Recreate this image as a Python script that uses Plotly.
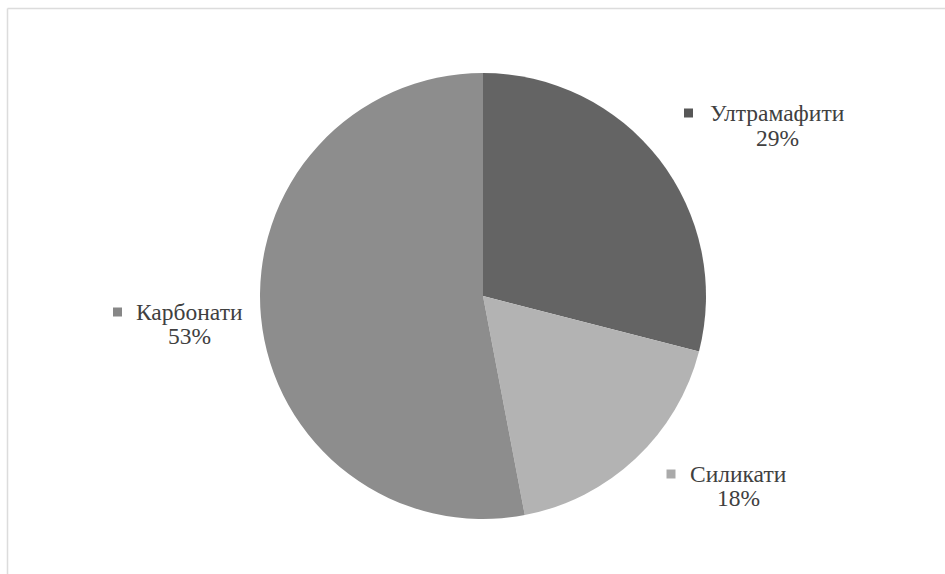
import plotly.graph_objects as go

# Rock types and their shares
categories = ["Ултрамафити", "Силикати", "Карбонати"]
values = [29, 18, 53]
slice_colors = ["#646464", "#b3b3b3", "#8d8d8d"]
key_colors = ["#575757", "#aaaaaa", "#878787"]

W, H = 945, 574


def px(x):
    return x / W


def py(y):
    return 1 - y / H


# pie centre and radius in pixels
cx, cy, r = 483, 296, 223

fig = go.Figure()
fig.add_trace(go.Pie(
    labels=categories,
    values=values,
    sort=False,
    direction="clockwise",
    rotation=0,
    marker=dict(colors=slice_colors, line=dict(width=0)),
    textinfo="none",
    hoverinfo="label+percent",
    showlegend=False,
    domain=dict(x=[px(cx - r), px(cx + r)], y=[py(cy + r), py(cy - r)]),
))

total = sum(values)
# label placement: (name centre x, name centre y, percent centre y, key centre x, key size)
label_pos = {
    "Ултрамафити": (777, 113, 138, 688.5, 9),
    "Силикати": (738, 474, 498, 671, 9),
    "Карбонати": (189, 312, 336, 117.5, 9),
}

font = dict(family="Liberation Serif, Times New Roman, serif", size=23.5, color="#404040")
shapes = []
annotations = []
for name, v, kc in zip(categories, values, key_colors):
    tx, ty, py2, kx, ks = label_pos[name]
    annotations.append(dict(x=px(tx), y=py(ty), xref="paper", yref="paper",
                            text=name, showarrow=False, font=font,
                            xanchor="center", yanchor="middle"))
    annotations.append(dict(x=px(tx), y=py(py2), xref="paper", yref="paper",
                            text=f"{v / total * 100:.0f}%", showarrow=False, font=font,
                            xanchor="center", yanchor="middle"))
    shapes.append(dict(type="rect", xref="paper", yref="paper",
                       x0=px(kx - ks / 2), x1=px(kx + ks / 2),
                       y0=py(ty + ks / 2), y1=py(ty - ks / 2),
                       fillcolor=kc, line=dict(width=0)))

# chart area frame (top and left edges)
frame = "#dcdcdc"
shapes.append(dict(type="line", xref="paper", yref="paper",
                   x0=px(7.5), x1=1, y0=py(8.5), y1=py(8.5),
                   line=dict(color=frame, width=1.5)))
shapes.append(dict(type="line", xref="paper", yref="paper",
                   x0=px(7.5), x1=px(7.5), y0=py(8.5), y1=0,
                   line=dict(color=frame, width=1.5)))

fig.update_layout(
    width=W, height=H,
    margin=dict(l=0, r=0, t=0, b=0),
    paper_bgcolor="white",
    plot_bgcolor="white",
    shapes=shapes,
    annotations=annotations,
)

fig.write_html("out.html")
